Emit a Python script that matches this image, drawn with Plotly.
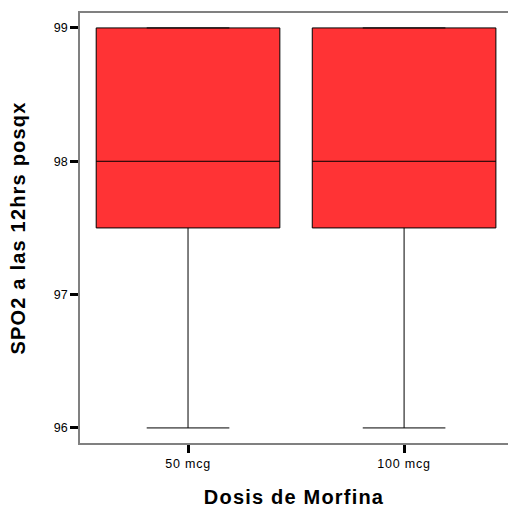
import plotly.graph_objects as go

# Dose groups and the summary statistics of SpO2 at 12 h post-surgery
categories = ["50 mcg", "100 mcg"]
q1 = [97.5, 97.5]
median = [98.0, 98.0]
q3 = [99.0, 99.0]
lower_whisker = [96.0, 96.0]
upper_whisker = [99.0, 99.0]
y_ticks = [96, 97, 98, 99]

fig = go.Figure()
fig.add_trace(go.Box(
    x=categories,
    q1=q1,
    median=median,
    q3=q3,
    lowerfence=lower_whisker,
    upperfence=upper_whisker,
    fillcolor="rgb(255,51,53)",
    line=dict(color="black", width=1),
    width=0.85,
    whiskerwidth=0.45,
    boxpoints=False,
    showlegend=False,
    hoverinfo="skip",
))

font_family = "Liberation Sans, Arial, sans-serif"
frame_color = "rgb(128,128,128)"

fig.update_layout(
    width=508,
    height=510,
    margin=dict(l=80, r=0, t=13, b=67),
    paper_bgcolor="white",
    plot_bgcolor="white",
    font=dict(family=font_family, color="black"),
    xaxis=dict(
        type="category",
        range=[-0.5, 1.481],
        showline=True,
        linecolor=frame_color,
        linewidth=1.5,
        mirror=True,
        ticks="outside",
        ticklen=8,
        tickwidth=3,
        tickcolor="black",
        tickfont=dict(size=12.5),
        showgrid=False,
        zeroline=False,
        title=dict(text="<b>Dosis de Morfina</b>", font=dict(size=20), standoff=20),
    ),
    yaxis=dict(
        range=[95.887, 99.112],
        tickvals=y_ticks,
        showline=True,
        linecolor=frame_color,
        linewidth=1.5,
        mirror=False,
        ticks="outside",
        ticklen=8,
        tickwidth=3,
        tickcolor="black",
        tickfont=dict(size=12.5),
        showgrid=False,
        zeroline=False,
        title=dict(text="<b>SPO2 a las 12hrs posqx</b>", font=dict(size=20), standoff=23),
    ),
)

# Slightly widened letter spacing for the axis titles and category labels
spacing_js = """
var gd = document.getElementById('{plot_id}');
function spaceText() {
  gd.querySelectorAll('.g-xtitle text, .g-ytitle text').forEach(function (t) {
    t.style.letterSpacing = '1.2px';
  });
  gd.querySelectorAll('.xtick text').forEach(function (t) {
    t.style.letterSpacing = '0.8px';
  });
}
spaceText();
gd.on('plotly_afterplot', spaceText);
"""

fig.write_html("out.html", post_script=spacing_js)
